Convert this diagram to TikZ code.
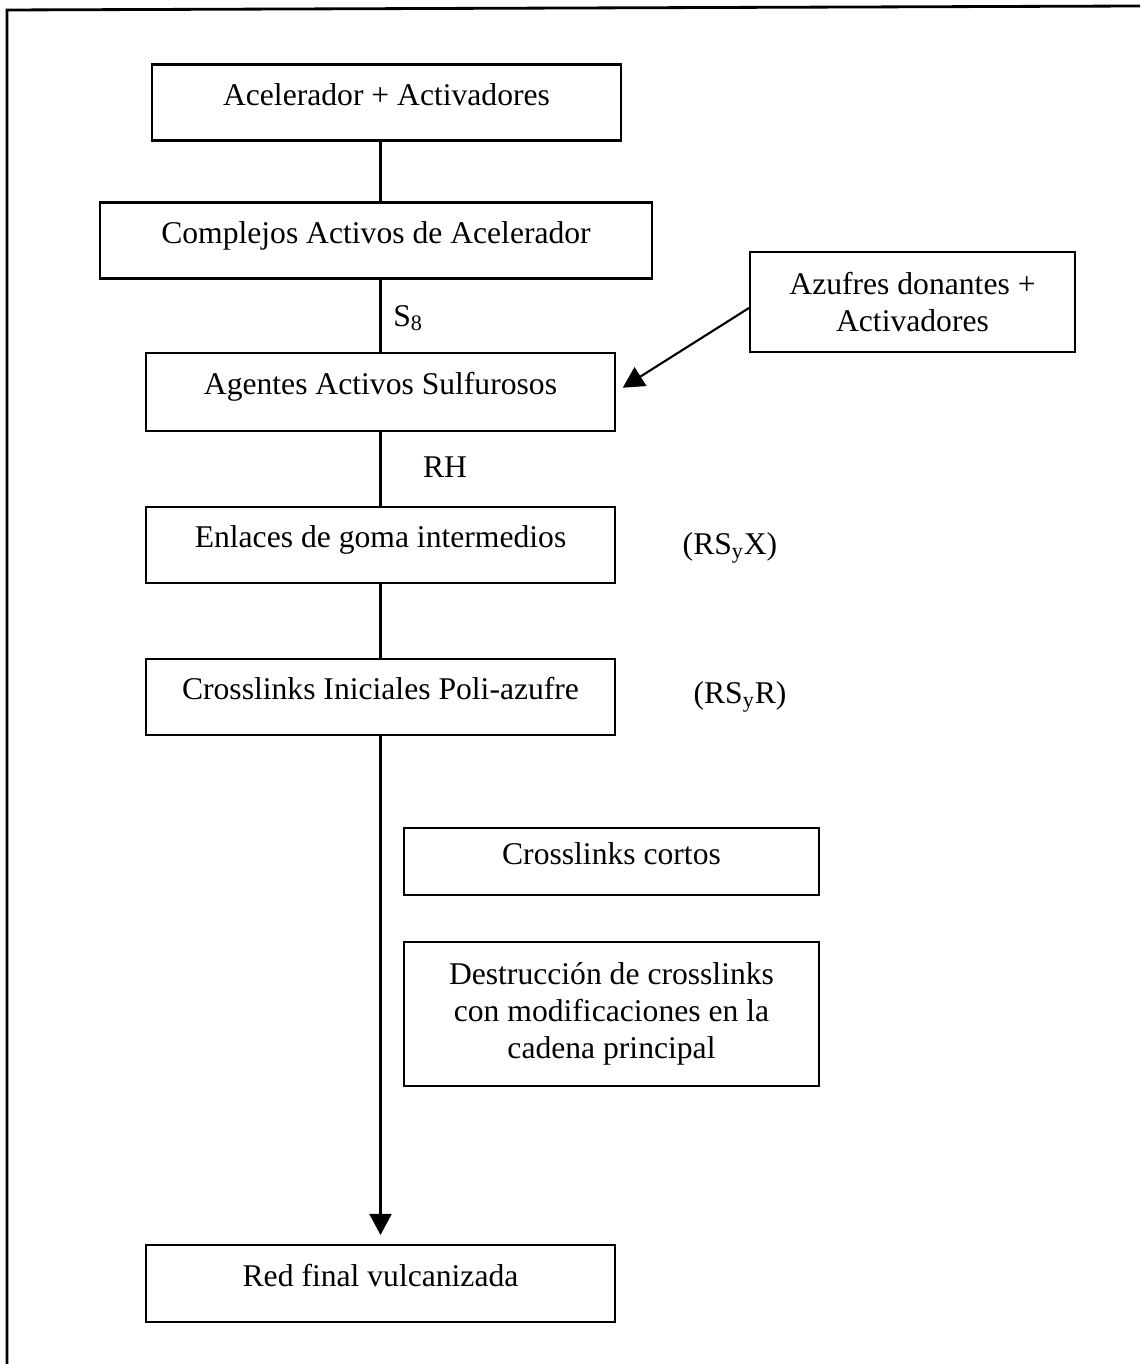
\documentclass[tikz,border=0pt]{standalone}
\usepackage{fontspec}
\setmainfont{Liberation Serif}
\usepackage{tikz}
\usetikzlibrary{arrows.meta, positioning, calc}

\begin{document}
\begin{tikzpicture}[
    x=0.02cm, y=-0.02cm,
    box/.style={rectangle, draw, line width=1.2pt, minimum width=9.38cm, minimum height=1.52cm, align=center, inner sep=0pt, font=\fontsize{18}{21}\selectfont, text height=13pt, text depth=10pt},
    label/.style={font=\fontsize{18}{21}\selectfont, inner sep=0pt},
    link/.style={line width=1.2pt},
    arrow/.style={line width=1.2pt, -{Triangle[length=0.42cm, width=0.44cm]}}
]
    \useasboundingbox (0,0) rectangle (1140,1364);
    \draw[line width=1.6pt] (7,1364) -- (7,10) -- (1140,6);

    \node[box] (acel) at (386.5,102.5) {Acelerador + Activadores};
    \node[box, minimum width=11.04cm] (compl) at (376,240.5) {Complejos Activos de Acelerador};
    \node[box, minimum width=6.5cm, minimum height=2cm, text height=, text depth=] (donor) at (912.5,302) {Azufres donantes +\\Activadores};
    \node[box, minimum height=1.56cm] (agent) at (380.5,392) {Agentes Activos Sulfurosos};
    \node[box] (enlace) at (380.5,545) {Enlaces de goma intermedios};
    \node[box] (inicial) at (380.5,697) {Crosslinks Iniciales Poli-azufre};
    \node[box, minimum width=8.3cm, minimum height=1.34cm] (corto) at (611.5,861.5) {Crosslinks cortos};
    \node[box, minimum width=8.3cm, minimum height=2.88cm, text height=, text depth=] (destr) at (611.5,1014) {Destrucción de crosslinks\\con modificaciones en la\\cadena principal};
    \node[box, minimum height=1.54cm] (red) at (380.5,1283.5) {Red final vulcanizada};

    \node[label, anchor=west] (lblS) at (393,318) {S\textsubscript{8}};
    \node[label] (lblRH) at (445,467) {RH};
    \node[label] (lblX) at (730,548) {(RS\textsubscript{y}X)};
    \node[label] (lblR) at (740,697) {(RS\textsubscript{y}R)};

    \draw[link] (acel.south -| agent) -- (compl.north -| agent);
    \draw[link] (compl.south -| agent) -- (agent.north);
    \draw[link] (agent) -- (enlace);
    \draw[link] (enlace) -- (inicial);
    \draw[arrow, shorten >=0.18cm] (inicial) -- (red);
    \draw[arrow, shorten >=0.16cm] ([yshift=-0.12cm]donor.west) -- (agent.east);
\end{tikzpicture}
\end{document}
